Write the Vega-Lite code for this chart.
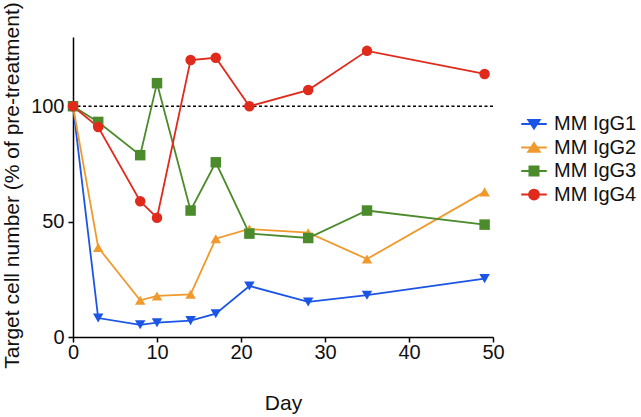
{
  "$schema": "https://vega.github.io/schema/vega-lite/v6.json",
  "width": 420,
  "height": 300,
  "autosize": {"type": "none"},
  "padding": {"left": 73, "top": 37, "right": 148, "bottom": 80},
  "background": "white",
  "config": {
    "view": {"stroke": null},
    "font": "Liberation Sans",
    "axis": {
      "grid": false,
      "domainColor": "black",
      "domainWidth": 1.5,
      "tickColor": "black",
      "tickWidth": 1.5,
      "tickSize": 5,
      "labelFont": "Liberation Sans",
      "labelFontSize": 20,
      "labelColor": "#111",
      "titleFont": "Liberation Sans",
      "titleFontSize": 21,
      "titleFontWeight": "normal",
      "titleColor": "#111"
    }
  },
  "datasets": {
    "main": [
      {"day": 0, "value": 100, "series": "MM IgG1"},
      {"day": 3, "value": 8.2, "series": "MM IgG1"},
      {"day": 8, "value": 5.3, "series": "MM IgG1"},
      {"day": 10, "value": 6.2, "series": "MM IgG1"},
      {"day": 14, "value": 7.1, "series": "MM IgG1"},
      {"day": 17, "value": 10.1, "series": "MM IgG1"},
      {"day": 21, "value": 22.1, "series": "MM IgG1"},
      {"day": 28, "value": 15.2, "series": "MM IgG1"},
      {"day": 35, "value": 18.1, "series": "MM IgG1"},
      {"day": 49, "value": 25.3, "series": "MM IgG1"},
      {"day": 0, "value": 100, "series": "MM IgG2"},
      {"day": 3, "value": 38.8, "series": "MM IgG2"},
      {"day": 8, "value": 15.9, "series": "MM IgG2"},
      {"day": 10, "value": 17.8, "series": "MM IgG2"},
      {"day": 14, "value": 18.5, "series": "MM IgG2"},
      {"day": 17, "value": 42.6, "series": "MM IgG2"},
      {"day": 21, "value": 46.8, "series": "MM IgG2"},
      {"day": 28, "value": 45.2, "series": "MM IgG2"},
      {"day": 35, "value": 33.8, "series": "MM IgG2"},
      {"day": 49, "value": 62.9, "series": "MM IgG2"},
      {"day": 0, "value": 100, "series": "MM IgG3"},
      {"day": 3, "value": 93.2, "series": "MM IgG3"},
      {"day": 8, "value": 78.8, "series": "MM IgG3"},
      {"day": 10, "value": 110, "series": "MM IgG3"},
      {"day": 14, "value": 54.8, "series": "MM IgG3"},
      {"day": 17, "value": 75.7, "series": "MM IgG3"},
      {"day": 21, "value": 44.8, "series": "MM IgG3"},
      {"day": 28, "value": 42.9, "series": "MM IgG3"},
      {"day": 35, "value": 54.8, "series": "MM IgG3"},
      {"day": 49, "value": 48.7, "series": "MM IgG3"},
      {"day": 0, "value": 100, "series": "MM IgG4"},
      {"day": 3, "value": 91, "series": "MM IgG4"},
      {"day": 8, "value": 58.8, "series": "MM IgG4"},
      {"day": 10, "value": 51.7, "series": "MM IgG4"},
      {"day": 14, "value": 120, "series": "MM IgG4"},
      {"day": 17, "value": 121, "series": "MM IgG4"},
      {"day": 21, "value": 100, "series": "MM IgG4"},
      {"day": 28, "value": 107, "series": "MM IgG4"},
      {"day": 35, "value": 124, "series": "MM IgG4"},
      {"day": 49, "value": 114, "series": "MM IgG4"}
    ],
    "ref": [{"ref": 100}]
  },
  "layer": [
    {
      "data": {"name": "ref"},
      "mark": {"type": "rule", "color": "black", "strokeWidth": 1.5, "strokeDash": [3, 2.5]},
      "encoding": {
        "y": {"field": "ref", "type": "quantitative", "scale": {"domain": [0, 130]}}
      }
    },
    {
      "data": {"name": "main"},
      "encoding": {
        "x": {
          "field": "day", "type": "quantitative", "title": "Day",
          "scale": {"domain": [0, 50], "nice": false, "zero": true},
          "axis": {"values": [0, 10, 20, 30, 40, 50], "labelPadding": 0, "labelFlush": false,
                   "titleX": 210, "titleY": 72, "titleBaseline": "alphabetic"}
        },
        "y": {
          "field": "value", "type": "quantitative", "title": "Target cell number (% of pre-treatment)",
          "scale": {"domain": [0, 130], "nice": false},
          "axis": {"values": [0, 50, 100], "labelPadding": 4, "labelFlush": false,
                   "titleX": -61, "titleY": 148, "titleAngle": 270, "titleAlign": "center", "titleBaseline": "middle"}
        },
        "color": {
          "field": "series", "type": "nominal",
          "scale": {"domain": ["MM IgG1", "MM IgG2", "MM IgG3", "MM IgG4"],
                    "range": ["#1c55e6", "#f09a2e", "#4b8b2b", "#e02a1c"]},
          "legend": {
            "title": null, "orient": "none", "legendX": 451, "legendY": 77,
            "padding": 0, "symbolOffset": 0, "symbolSize": 225, "labelOffset": 10,
            "labelFontSize": 20, "labelFont": "Liberation Sans", "labelColor": "#111",
            "rowPadding": 3.5,
            "encode": {
              "symbols": {
                "update": {
                  "shape": {"signal": "datum.value === 'MM IgG1' ? 'M-1.7,0L1.7,0M-0.75,-0.55L0.75,-0.55L0,0.6Z' : datum.value === 'MM IgG2' ? 'M-1.7,0L1.7,0M-0.75,0.55L0.75,0.55L0,-0.6Z' : datum.value === 'MM IgG3' ? 'M-1.7,0L1.7,0M-0.6,-0.6L0.6,-0.6L0.6,0.6L-0.6,0.6Z' : 'M-1.7,0L1.7,0M-0.65,0A0.65,0.65,0,1,0,0.65,0A0.65,0.65,0,1,0,-0.65,0Z'"},
                  "fill": {"signal": "scale('color', datum.value)"},
                  "stroke": {"signal": "scale('color', datum.value)"},
                  "strokeWidth": {"value": 2},
                  "opacity": {"value": 1},
                  "fillOpacity": {"value": 1},
                  "strokeOpacity": {"value": 1}
                }
              }
            }
          }
        }
      },
      "layer": [
        {"mark": {"type": "line", "strokeWidth": 1.8}},
        {
          "mark": {"type": "point", "filled": true, "size": 110, "opacity": 1},
          "encoding": {
            "shape": {
              "field": "series", "type": "nominal",
              "scale": {"domain": ["MM IgG4", "MM IgG3", "MM IgG2", "MM IgG1"],
                        "range": ["circle", "square", "triangle-up", "triangle-down"]},
              "legend": null
            }
          }
        }
      ]
    }
  ]
}
